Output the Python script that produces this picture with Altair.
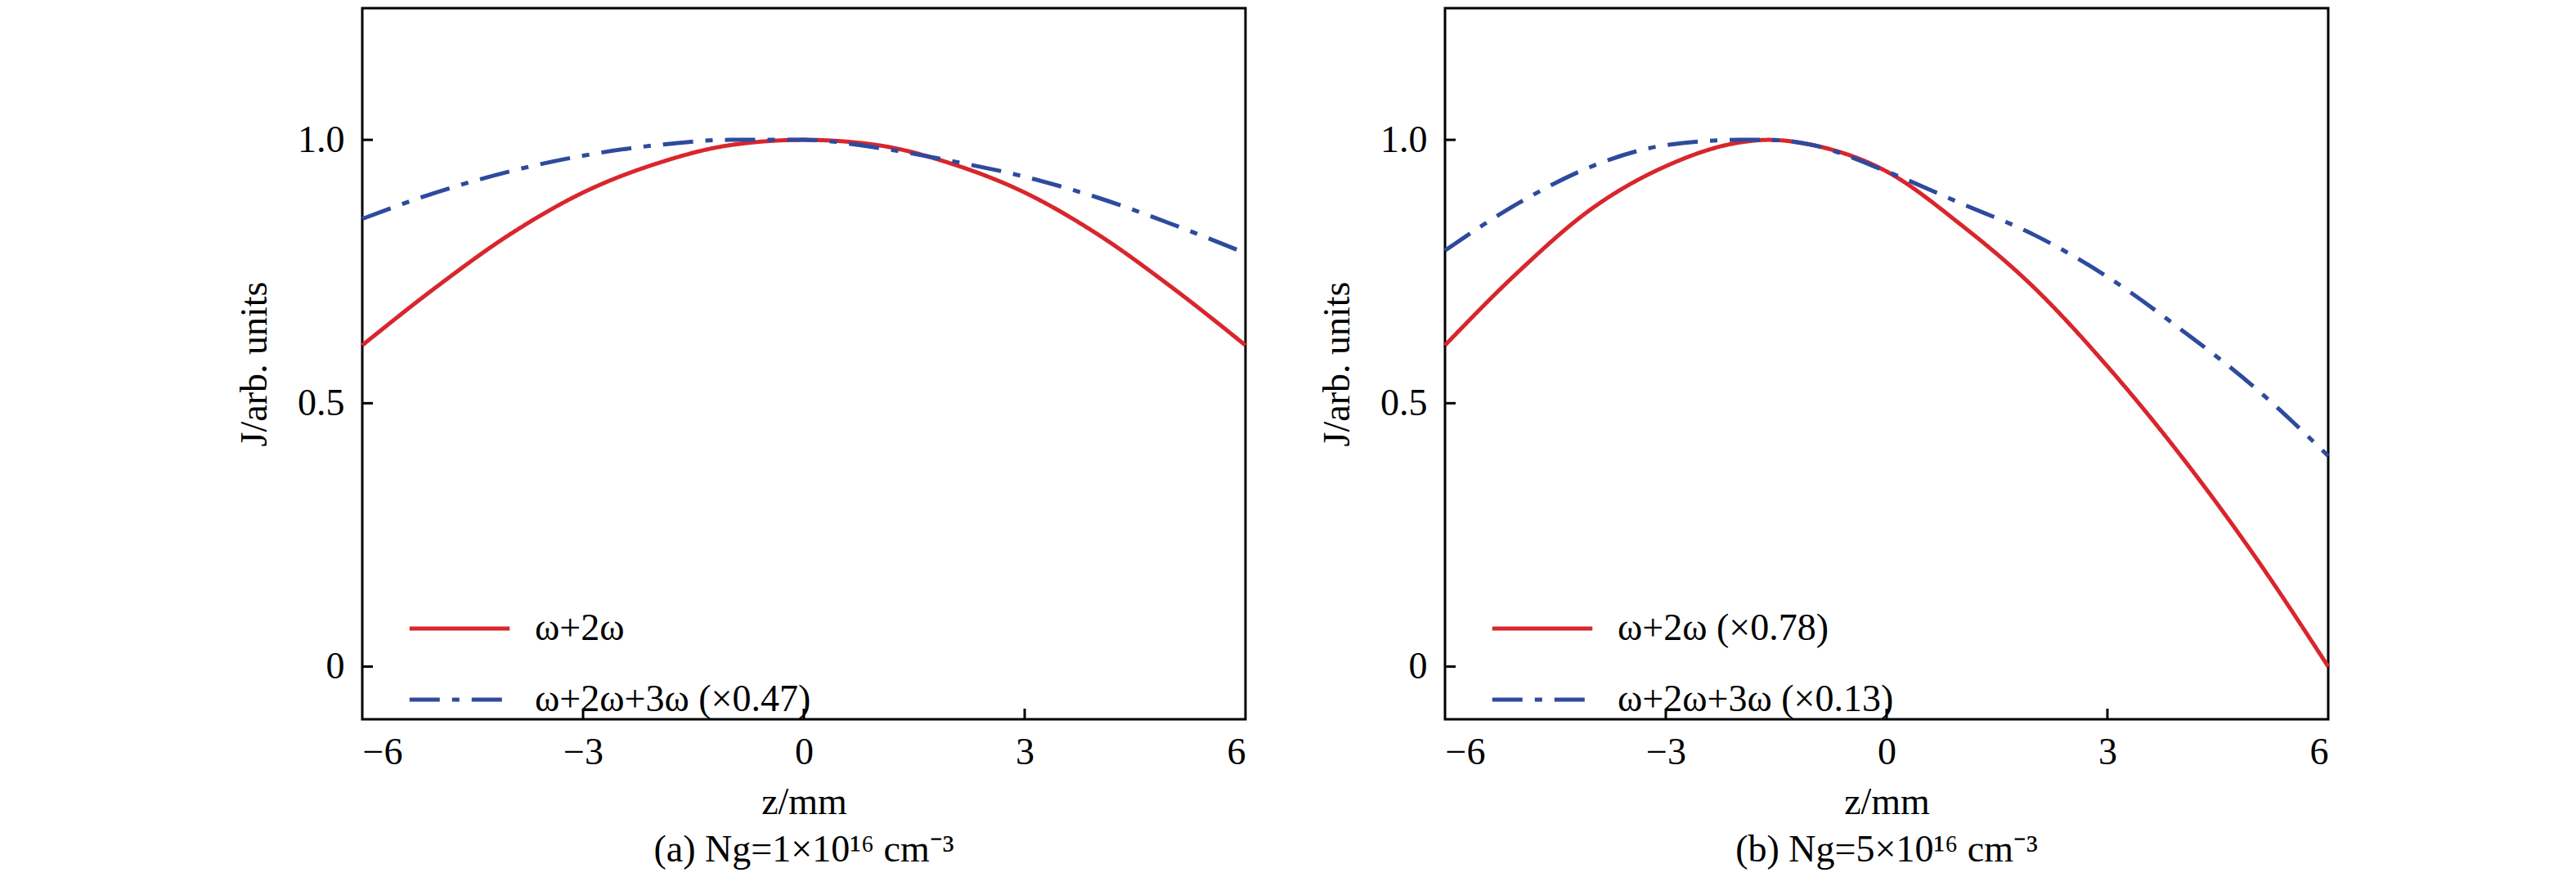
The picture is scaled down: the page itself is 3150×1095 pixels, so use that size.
import altair as alt
import pandas as pd

z_a = [-6, -5, -4, -3, -2, -1, 0, 1, 2, 3, 4, 5, 6]
red_a = [0.61, 0.72, 0.82, 0.90, 0.955, 0.99, 1.0, 0.99, 0.955, 0.90, 0.82, 0.72, 0.61]
blue_a = [0.85, 0.90, 0.94, 0.97, 0.99, 1.0, 1.0, 0.985, 0.96, 0.93, 0.89, 0.84, 0.785]

z_b = [-6, -5, -4, -3, -2, -1.6, -1, 0, 1, 2, 3, 4, 5, 6]
red_b = [0.61, 0.75, 0.87, 0.95, 0.995, 1.0, 0.99, 0.94, 0.84, 0.72, 0.57, 0.40, 0.21, 0.0]
blue_b = [0.79, 0.88, 0.95, 0.99, 1.0, 1.0, 0.99, 0.94, 0.88, 0.82, 0.74, 0.64, 0.53, 0.40]

labels_a = ["ω+2ω", "ω+2ω+3ω (×0.47)"]
labels_b = ["ω+2ω (×0.78)", "ω+2ω+3ω (×0.13)"]
captions = ["(a) Ng=1×10¹⁶ cm⁻³", "(b) Ng=5×10¹⁶ cm⁻³"]

x_ticks = [-6, -3, 0, 3, 6]
y_ticks = [0, 0.5, 1.0]

W, H = 1080, 870
FONT = "Liberation Serif"
RED, BLUE = "#d8262c", "#2e4a9e"


def legend():
    return alt.Legend(title=None, orient="none", legendX=55, legendY=695,
                      symbolType="stroke", symbolSize=15000, symbolStrokeWidth=5,
                      labelFontSize=46, labelFont=FONT, labelLimit=800,
                      rowPadding=-60, labelOffset=28)


def panel(z, red, blue, labels, caption):
    df = pd.concat([
        pd.DataFrame({"z": z, "J": red, "series": labels[0]}),
        pd.DataFrame({"z": z, "J": blue, "series": labels[1]}),
    ])
    xs = alt.Scale(domain=[-6, 6], nice=False)
    ys = alt.Scale(domain=[-0.1, 1.25], nice=False)

    lines = alt.Chart(df).mark_line(strokeWidth=5, interpolate="monotone").encode(
        x=alt.X("z:Q", scale=xs, title="z/mm",
                axis=alt.Axis(values=x_ticks, format="d", tickSize=0, labelPadding=18,
                              titlePadding=16, grid=False, domain=False)),
        y=alt.Y("J:Q", scale=ys, title="J/arb. units",
                axis=alt.Axis(values=y_ticks, tickSize=0, labelPadding=22, titlePadding=28,
                              grid=False, domain=False,
                              labelExpr="datum.value == 0 ? '0' : format(datum.value, '.1f')")),
        color=alt.Color("series:N", scale=alt.Scale(domain=labels, range=[RED, BLUE]),
                        legend=legend()),
        strokeDash=alt.StrokeDash("series:N",
                                  scale=alt.Scale(domain=labels, range=[[1, 0], [37, 15, 9, 15]]),
                                  legend=legend()),
    )

    xt = alt.Chart(pd.DataFrame({"t": x_ticks[1:-1]})).mark_rule(color="black", strokeWidth=3).encode(
        x=alt.X("t:Q", scale=xs), y=alt.value(H), y2=alt.value(H - 13))
    yt = alt.Chart(pd.DataFrame({"t": y_ticks})).mark_rule(color="black", strokeWidth=3).encode(
        y=alt.Y("t:Q", scale=ys), x=alt.value(0), x2=alt.value(13))

    return alt.layer(lines, xt, yt).properties(
        width=W, height=H,
        title=alt.TitleParams(caption, orient="bottom", fontSize=46, font=FONT,
                              fontWeight="normal", offset=14, color="black"),
    )


chart = alt.hconcat(
    panel(z_a, red_a, blue_a, labels_a, captions[0]),
    panel(z_b, red_b, blue_b, labels_b, captions[1]),
    spacing=76,
).resolve_scale(color="independent", strokeDash="independent").properties(
    padding={"left": 279, "top": 0, "right": 0, "bottom": 0}
).configure(background="white").configure_view(
    stroke="black", strokeWidth=3
).configure_axis(
    labelFont=FONT, titleFont=FONT, labelFontSize=46, titleFontSize=46,
    labelColor="black", titleColor="black", titleFontWeight="normal",
)

chart.save("out.html", embed_options={"renderer": "svg", "actions": False})
